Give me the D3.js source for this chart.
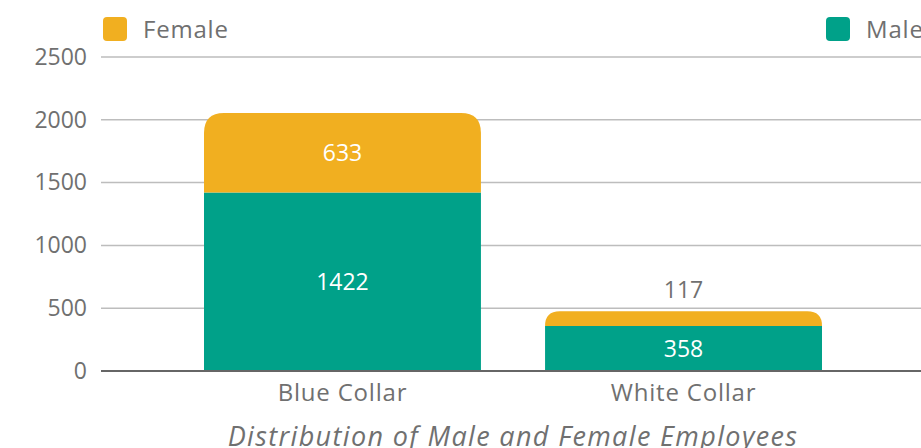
<!DOCTYPE html>
<html>
<head>
<meta charset="utf-8">
<script src="https://cdn.jsdelivr.net/npm/d3@7"></script>
<style>
  html, body { margin: 0; padding: 0; background: #fff; overflow: hidden; }
  svg { display: block; font-family: 'Open Sans', 'Noto Sans', sans-serif; }
</style>
</head>
<body>
<svg id="chart" width="921" height="448"></svg>
<script>
// Employee counts by collar type, split by gender
const categories = ["Blue Collar", "White Collar"];
const maleValues = [1422, 358];
const femaleValues = [633, 117];
const seriesNames = ["Female", "Male"];
const yTicks = [0, 500, 1000, 1500, 2000, 2500];
const title = "Distribution of Male and Female Employees";

const colors = { Female: "#F1AF20", Male: "#00A189" };
const textColor = "#707070";
const fontFamily = "'Open Sans', 'Noto Sans', sans-serif";

const svg = d3.select("#chart");
const margin = { left: 101, top: 57, bottom: 77 };
const plotRight = 925;          // plot area runs slightly past the viewport
const height = 448;

const x = d3.scaleBand()
  .domain(categories)
  .range([margin.left, plotRight])
  .paddingInner(0.188)
  .paddingOuter(0.302);

const y = d3.scaleLinear()
  .domain([0, 2500])
  .range([height - margin.bottom, margin.top]);

// Gridlines
svg.append("g").selectAll("line")
  .data(yTicks.filter(d => d !== 0))
  .join("line")
  .attr("x1", margin.left).attr("x2", plotRight)
  .attr("y1", d => y(d)).attr("y2", d => y(d))
  .attr("stroke", "#bdbdbd").attr("stroke-width", 1.5);

// Y axis labels
const yAxis = svg.append("g")
  .attr("transform", `translate(${margin.left},0)`)
  .call(d3.axisLeft(y).tickValues(yTicks).tickFormat(d3.format("d")).tickSize(0).tickPadding(14));
yAxis.select(".domain").remove();
yAxis.selectAll("text")
  .attr("font-size", 23).attr("fill", textColor)
  .attr("font-family", fontFamily);

// Stack data
const rows = categories.map((c, i) => ({ category: c, Male: maleValues[i], Female: femaleValues[i] }));
const stack = d3.stack().keys(["Male", "Female"])(rows);

// Path for a bar segment with optionally rounded top corners
function segPath(x0, w, yTop, yBot, r) {
  const h = yBot - yTop;
  r = Math.min(r, h, w / 2);
  if (r <= 0) return `M${x0},${yBot}V${yTop}H${x0 + w}V${yBot}Z`;
  return `M${x0},${yBot}V${yTop + r}Q${x0},${yTop} ${x0 + r},${yTop}` +
         `H${x0 + w - r}Q${x0 + w},${yTop} ${x0 + w},${yTop + r}V${yBot}Z`;
}

const bars = svg.append("g");
stack.forEach(layer => {
  const isTop = layer.key === "Female";
  bars.selectAll(null)
    .data(layer)
    .join("path")
    .attr("fill", colors[layer.key])
    .attr("d", d => segPath(x(d.data.category), x.bandwidth(), y(d[1]), y(d[0]), isTop ? 20 : 0));
});

// Baseline
svg.append("line")
  .attr("x1", margin.left).attr("x2", plotRight)
  .attr("y1", y(0)).attr("y2", y(0))
  .attr("stroke", "#666").attr("stroke-width", 2);

// Value labels: inside the segment when tall enough, otherwise above the bar
const labels = svg.append("g")
  .attr("font-size", 23)
  .attr("text-anchor", "middle");
stack.forEach(layer => {
  layer.forEach(d => {
    const value = d[1] - d[0];
    const segH = y(d[0]) - y(d[1]);
    const cx = x(d.data.category) + x.bandwidth() / 2;
    if (segH >= 30) {
      labels.append("text")
        .attr("x", cx).attr("y", (y(d[0]) + y(d[1])) / 2)
        .attr("dy", "0.36em")
        .attr("fill", "#fff")
        .text(value);
    } else {
      labels.append("text")
        .attr("x", cx).attr("y", y(d[1]) - 13)
        .attr("fill", textColor)
        .text(value);
    }
  });
});

// X axis labels
const xAxis = svg.append("g")
  .attr("transform", `translate(0,${y(0)})`)
  .call(d3.axisBottom(x).tickSize(0).tickPadding(13));
xAxis.select(".domain").remove();
xAxis.selectAll("text")
  .attr("font-size", 24).attr("fill", textColor)
  .attr("letter-spacing", 0.8)
  .attr("font-family", fontFamily);

// Title
svg.append("text")
  .attr("x", (margin.left + plotRight) / 2)
  .attr("y", 446)
  .attr("text-anchor", "middle")
  .attr("font-size", 27)
  .attr("letter-spacing", 1.35)
  .attr("font-style", "italic")
  .attr("fill", textColor)
  .text(title);

// Legend
const legendItems = [
  { name: seriesNames[0], x: 103 },
  { name: seriesNames[1], x: 826 }
];
const legend = svg.append("g");
legendItems.forEach(item => {
  legend.append("rect")
    .attr("x", item.x).attr("y", 17)
    .attr("width", 24).attr("height", 24)
    .attr("rx", 4)
    .attr("fill", colors[item.name]);
  legend.append("text")
    .attr("x", item.x + 40).attr("y", 29)
    .attr("dy", "0.36em")
    .attr("font-size", 24)
    .attr("letter-spacing", 0.8)
    .attr("fill", textColor)
    .text(item.name);
});
</script>
</body>
</html>
